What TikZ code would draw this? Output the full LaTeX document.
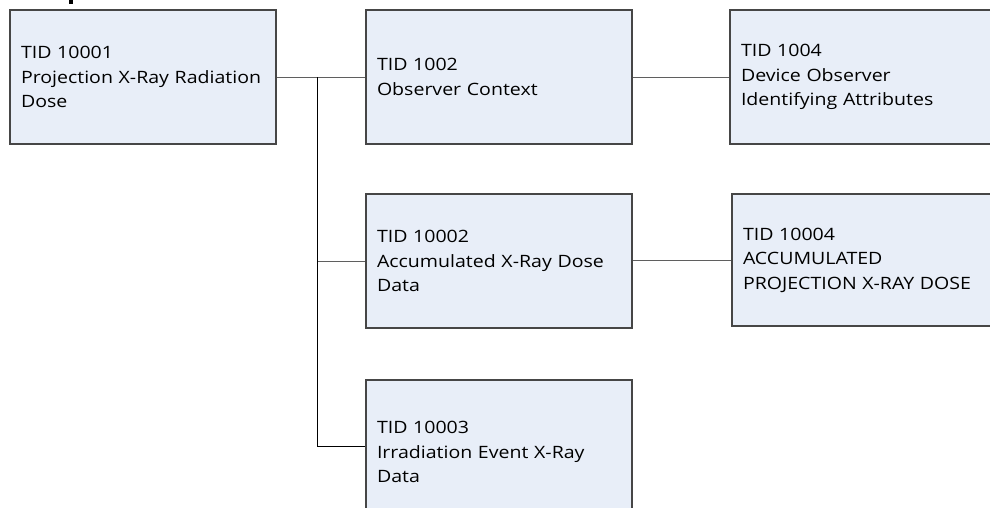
\documentclass[tikz,border=0pt]{standalone}
\usepackage{fontspec}
\setmainfont[FakeStretch=1.15]{Open Sans}
\definecolor{boxfill}{RGB}{232,238,248}
\definecolor{boxline}{RGB}{70,70,70}
\definecolor{conn}{RGB}{95,95,95}
\begin{document}
\begin{tikzpicture}[x=1pt,y=-1pt,
  tidbox/.style={draw=boxline, line width=1.2pt, fill=boxfill, rectangle,
    minimum width=266pt, minimum height=134pt, text width=244pt,
    inner sep=0pt, align=left,
    font=\fontsize{17}{24.5}\selectfont},
  link/.style={draw=conn, line width=1pt}]
\clip (0,0) rectangle (990,507);
\fill[white] (0,0) rectangle (990,507);
\fill[black] (69,0) rectangle (73,4);
\node[tidbox] (b1) at (143,77) {TID 10001\\Projection X-Ray Radiation\\Dose};
\node[tidbox] (b2) at (499,77) {TID 1002\\Observer Context};
\node[tidbox] (b3) at (863,77) {TID 1004\\Device Observer\\Identifying Attributes};
\node[tidbox] (b4) at (499,261) {TID 10002\\Accumulated X-Ray Dose\\Data};
\node[tidbox, minimum height=132pt] (b5) at (865,260) {TID 10004\\ACCUMULATED\\PROJECTION X-RAY DOSE};
\node[tidbox, minimum height=144pt] (b6) at (499,452) {TID 10003\\Irradiation Event X-Ray\\Data};
\coordinate (j) at (317,77);
\coordinate (e6) at ([yshift=6pt]b6.west);
\draw[link] (b1.east) -- (b2.west);
\draw[link] (b2.east) -- (b3.west);
\draw[link] (b4.east |- b5.west) -- (b5.west);
\draw[link] (j |- b4.west) -- (b4.west);
\draw[link, draw=black] (j) -- (j |- e6) -- (e6);
\end{tikzpicture}
\end{document}
